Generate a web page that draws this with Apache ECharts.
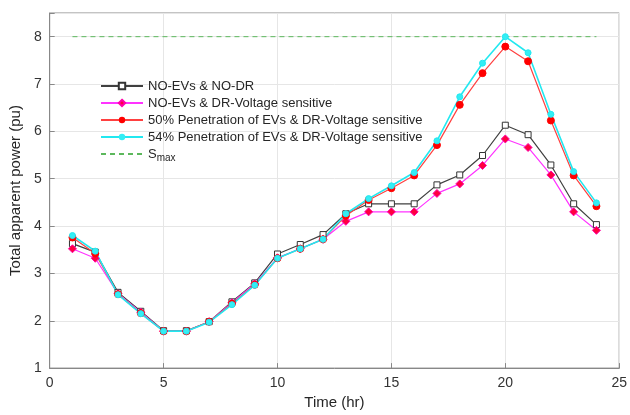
<!DOCTYPE html>
<html><head><meta charset="utf-8">
<script src="https://cdn.jsdelivr.net/npm/echarts@6/dist/echarts.min.js"></script>
<style>html,body{margin:0;padding:0;background:#fff}#c{width:630px;height:415px}</style>
</head><body><div id="c"></div>
<script>
const hours = [1,2,3,4,5,6,7,8,9,10,11,12,13,14,15,16,17,18,19,20,21,22,23,24];
const noEvNoDr = [3.63,3.45,2.60,2.20,1.79,1.79,1.98,2.40,2.80,3.41,3.61,3.82,4.26,4.47,4.47,4.47,4.87,5.08,5.49,6.13,5.93,5.29,4.47,4.03];
const noEvDr = [3.52,3.32,2.57,2.18,1.78,1.78,1.98,2.38,2.78,3.33,3.52,3.72,4.10,4.30,4.30,4.30,4.69,4.89,5.28,5.84,5.66,5.08,4.30,3.91];
const ev50Dr = [3.76,3.42,2.56,2.16,1.78,1.78,1.98,2.36,2.76,3.32,3.52,3.72,4.22,4.55,4.80,5.07,5.71,6.56,7.23,7.79,7.48,6.23,5.07,4.42];
const ev54Dr = [3.80,3.47,2.55,2.15,1.78,1.78,1.97,2.34,2.75,3.32,3.52,3.72,4.26,4.58,4.85,5.13,5.80,6.73,7.44,8.00,7.66,6.36,5.15,4.49];
const smaxX = [1,24];
const smaxY = [8,8];
const names = ['NO-EVs & NO-DR','NO-EVs & DR-Voltage sensitive','50% Penetration of EVs & DR-Voltage sensitive','54% Penetration of EVs & DR-Voltage sensitive','Smax'];
const xTicks = [0,5,10,15,20,25];
const yTicks = [1,2,3,4,5,6,7,8];

const pair = (xs, ys) => xs.map((x,i)=>[x, ys[i]]);
const font = 'Liberation Sans, Arial, sans-serif';
const chart = echarts.init(document.getElementById('c'));
chart.setOption({
  animation:false,
  textStyle:{fontFamily:font},
  grid:{left:45,right:5,top:13,bottom:46,show:true,borderColor:'#888',borderWidth:1},
  legend:{
    orient:'vertical', left:95, top:74, itemWidth:42, itemHeight:8, itemGap:3,
    textStyle:{fontSize:13,color:'#262626',fontFamily:font,lineHeight:14,
      rich:{s:{fontSize:13,color:'#262626'},m:{fontSize:10,color:'#262626',padding:[9,0,0,0]}}},
    formatter: n => n==='Smax' ? '{s|S}{m|max}' : n,
    data:names.map(n => n==='Smax' ? {name:n, itemStyle:{opacity:0}} : {name:n})
  },
  xAxis:{type:'value',min:0,max:25,interval:5,
    name:'Time (hr)',nameLocation:'middle',nameGap:26,nameTextStyle:{fontSize:15,color:'#262626'},
    axisLine:{lineStyle:{color:'#888'}},axisTick:{inside:true,length:5,lineStyle:{color:'#888'}},
    axisLabel:{fontSize:14,color:'#333',margin:8,formatter:v=>xTicks.includes(v)?String(v):''},
    splitLine:{show:true,lineStyle:{color:'#e6e6e6'}}},
  yAxis:{type:'value',min:1,max:8.5,interval:1,
    name:'Total apparent power (pu)',nameLocation:'middle',nameGap:23,nameTextStyle:{fontSize:15,color:'#262626'},
    axisLine:{show:true,lineStyle:{color:'#888'}},axisTick:{show:true,inside:true,length:5,lineStyle:{color:'#888'}},
    axisLabel:{fontSize:14,color:'#333',margin:8,formatter:v=>yTicks.includes(v)?String(v):''},
    splitLine:{show:true,lineStyle:{color:'#e6e6e6'}}},
  series:[
    {name:names[0],type:'line',data:pair(hours,noEvNoDr),symbol:'rect',symbolSize:6,
     lineStyle:{color:'#404040',width:1.2},itemStyle:{color:'#fff',borderColor:'#333',borderWidth:1},color:'#404040'},
    {name:names[1],type:'line',data:pair(hours,noEvDr),symbol:'diamond',symbolSize:8,
     lineStyle:{color:'#ff33ff',width:1.2},itemStyle:{color:'#ff0040',borderColor:'#ff00aa',borderWidth:1},color:'#ff33ff'},
    {name:names[2],type:'line',data:pair(hours,ev50Dr),symbol:'circle',symbolSize:7,
     lineStyle:{color:'#ff4040',width:1.2},itemStyle:{color:'#ff0000',borderColor:'#ff0000'},color:'#ff4040'},
    {name:names[3],type:'line',data:pair(hours,ev54Dr),symbol:'circle',symbolSize:6,
     lineStyle:{color:'#22e8f0',width:1.6},itemStyle:{color:'#33eef5',borderColor:'#22e8f0'},color:'#22e8f0'},
    {name:names[4],type:'line',data:pair(smaxX,smaxY),symbol:'none',
     lineStyle:{color:'#5cb85c',width:1,type:[5,4]},color:'#5cb85c'}
  ]
});
</script></body></html>
